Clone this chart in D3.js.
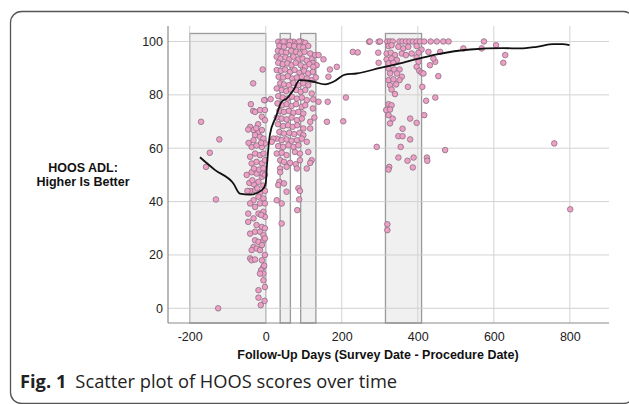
<!DOCTYPE html>
<html><head><meta charset="utf-8">
<script src="https://cdn.jsdelivr.net/npm/d3@7"></script>
<style>html,body{margin:0;padding:0;background:#fff;}svg{display:block;}</style>
</head><body><svg id="c" width="629" height="404"></svg>
<script>
const xTicks = [-200, 0, 200, 400, 600, 800];
const yTicks = [0, 20, 40, 60, 80, 100];
const xTitle = "Follow-Up Days (Survey Date - Procedure Date)";
const yTitle = ["HOOS ADL:", "Higher Is Better"];
const captionBold = "Fig. 1";
const captionText = "Scatter plot of HOOS scores over time";
// survey windows [start, end] in days
const windows = [[-200, 0], [38, 65], [92, 132], [315, 410]];
const windowTop = 103;
// loess fit line
const fitLine = [[-173,56.6],[-133,51.8],[-85,46.8],[-68,43],[-41,42.6],[-10,44.3],[0,46.8],[3,53],[11,65],[27,71.8],[42,77.4],[55,78.6],[73,81.8],[89,85.5],[121,85.1],[156,83.9],[178,84.9],[209,87.6],[239,88],[301,90.1],[362,92.1],[450,95.2],[538,97],[625,97.5],[669,97.4],[713,98],[757,99],[781,99],[799,98.6]];
// pre-operative responses
const preOp = [[-170,69.9],[-147,58.3],[-122,63.3],[-157,53],[-131,40.8],[-125,0],[-33,84.3],[-8,89.5],[-2,78],[-39,76.5],[-33,74],
[-43,47],[-31,46.5],[-19,47.4],[-6,46],[-10,49.3],[-24,50.5],[-37,51],[-41,44],[-28,44.3],[-15,43.3],[-2,44],[-19,41.8],[-6,41.2],[-32,40.5],[-41,39.3],[-28,38],[-15,39.3],[-2,39.3],[-46,35.5],[-46,32.4],[-32,33.7],[-19,35.5],[-6,36.2],[-2,34.3],[-24,31.2],[-10,30.5],[-41,28],[-28,28.7],[-15,28.7],[-6,27.4],[-28,25.5],[-19,24.9],[-6,25.5],[-2,26.2],[-32,23],[-24,22.4],[-10,23.7],[-37,21.8],[-15,21.8],[-41,18.7],[-37,18],[-28,18.3],[-10,18],[-6,15.5],[-12,14.3],[-6,13],[-15,13],[-6,10.5],[-19,6.8],[-19,4],[-13,1.2],[-3,2.8],
[-41,68],[-32,66.8],[-19,66],[-10,66.8],[-28,64.9],[-15,64.3],[-32,63],[-6,63.6],[-37,60.5],[-24,61],[-10,60.5],[-2,61.8],[-41,56.8],[-28,58],[-15,57.4],[-6,58],[-37,54.3],[-24,54.9],[-10,54.3],[-2,55.5],[-31,52.4],[-17,52],[-6,52.4],[-10,71.8],[-2,70.5],[-28,73.6],[-15,74.3],[-2,74.3],[-4,78],[-46,67],[-50,50],[-48,44],[-2,8],[-4,16],[-2,20],[-2,30],[-12,35],[-22,45],[-35,48],[-20,69],[-12,62],[-25,67.5],[-45,62],[-8,50.5],[-2,50]];
// post-operative responses
const postOp = [[13,78.4],
[33,99.9],[42,99.5],[55,99.9],[73,99.9],[82,99.3],[95,99.9],[104,99.5],[64,100],[47,100],[88,100],
[36,98.3],[48,98],[62,98.6],[75,98.3],[89,98],[99,97.8],[112,98.3],
[32,96.5],[42,96.1],[54,95.8],[67,96.5],[80,96.1],[90,95.5],[102,96.1],[117,95.5],[130,94.9],[139,94.9],[152,93.3],[121,93.3],
[29,94.3],[39,93.6],[52,94],[62,93.3],[73,94.3],[86,93.3],[97,93.6],[108,92.8],[124,92],[134,91.1],
[33,92],[45,91.5],[57,91.8],[68,91.1],[79,92],[92,91.1],[104,90.5],[115,91.5],[125,90.5],
[29,89.3],[40,89],[51,89.5],[64,88.6],[76,89.3],[89,88.3],[101,89],[112,88],[124,88.6],[169,89.5],[165,86.8],[187,90.5],
[34,86.8],[46,86.5],[58,87],[70,86.1],[82,86.5],[95,86.8],[108,86.1],[121,85.5],[132,86.5],
[38,84.3],[48,83.9],[61,83.6],[73,84.5],[86,83.6],[99,84.3],[112,83.6],
[29,82.4],[42,81.8],[54,81.4],[66,82],[80,81.8],[92,81.1],[104,81.8],[121,80.5],[139,77.4],[163,77.4],[211,79],
[33,79.5],[45,79],[57,78.6],[69,79.3],[82,78.6],[95,79],[108,78],[125,78.3],
[31,76.8],[43,76.1],[55,76.5],[68,75.8],[80,76.5],[95,75.5],[104,76.1],[124,74.9],
[36,74],[48,73.6],[61,74],[73,73.3],[86,73.6],[99,73],[128,71.5],[117,69.9],[161,69.9],[204,70.1],
[29,71.5],[42,71.1],[55,70.8],[68,71.5],[82,70.5],[95,71.1],
[32,69],[46,68.3],[59,68.6],[71,68],[83,68.6],[99,67.4],[117,67.4],
[36,66.1],[48,65.5],[62,65.8],[75,65.3],[89,65.8],[99,64.9],
[29,63.6],[42,63],[55,63.3],[68,62.8],[82,63],[95,63.6],[20,63.6],[16,62.4],
[33,60.8],[46,60.5],[60,61.1],[73,60.5],[86,61.1],[108,62.4],
[29,58],[42,58.3],[55,57.4],[77,58.6],[90,58],[112,58.6],[121,55.5],
[38,55.5],[48,54.9],[64,54.5],[79,54],[90,55.5],[117,54.5],
[38,52.4],[55,53],[82,52.4],[108,52.4],
[38,51],[36,47.4],[33,46.2],[48,46.8],[55,43.7],[29,40.5],[42,39.3],[42,31.8],[86,45],[90,44],[88,40.8],[83,36.8],
[229,96.1],[242,95.9],[272,99.9],[297,99.9],[297,92],
[274,100],[301,100],[320,100],[327,100],[334,100],[352,100],[360,100],[369,100],[378,100],[387,100],[397,100],[406,100],[417,100],[434,100],[450,100],[467,100],[481,100],[574,100],
[323,98.3],[331,98.6],[349,98],[362,97.4],[375,98],[397,98.3],[410,97],[520,97.4],[568,97.4],[606,98.6],
[318,95.5],[329,95.8],[340,94.9],[358,95.5],[369,94.9],[384,95.5],[402,95.8],[428,96.1],[459,96.1],[296,95.8],[630,94.9],
[318,93.3],[331,93.6],[345,93],[323,91.8],[336,92],[397,94],[402,92.4],[432,91.1],[446,92.4],[441,93.6],[625,92],
[323,89.9],[338,89.5],[352,89.5],[327,88],[345,88],[358,86.8],[397,90.5],[404,89],[410,88.3],[415,88],[454,87],
[323,85.5],[336,85.8],[352,85.5],[327,83.6],[343,83.9],[331,82],[374,83],[412,83],
[340,80.3],[323,76.5],[331,76.1],[317,74.3],[327,74.5],[446,79],[422,77.8],
[323,72.4],[334,71.1],[327,69.3],[380,71.1],[397,69.5],[417,72.4],
[360,67.3],[349,64.5],[360,64.5],[380,63.3],[292,60.5],[355,60.5],
[472,59.3],[349,56.5],[389,56.5],[373,55.3],[424,56.5],[425,55.3],[387,52.8],[325,53],[323,52],[759,61.8],
[320,31.5],[320,29.3],[801,37.1]];

const svg = d3.select("#c");
svg.append("rect").attr("x",10.5).attr("y",11.5).attr("width",624).attr("height",392)
  .attr("rx",11).attr("fill","#fff").attr("stroke","#555").attr("stroke-width",1.3);

const m = {l:168, r:609, t:26, b:323};
const x = d3.scaleLinear().domain([-257, 903]).range([m.l, m.r]);
const y = d3.scaleLinear().domain([-5.5, 105.8]).range([m.b, m.t]);

// windows
svg.append("g").selectAll("rect").data(windows).join("rect")
  .attr("x", d => x(d[0])).attr("y", y(windowTop))
  .attr("width", d => x(d[1]) - x(d[0])).attr("height", d => y(-5.5) - y(windowTop))
  .attr("fill", "#f0f0f0").attr("stroke", "#9a9a9a").attr("stroke-width", 1.3);

// gridlines
const grid = svg.append("g").attr("stroke", "#cfcfcf").attr("stroke-width", 1).attr("opacity", 0.9);
grid.selectAll("line.h").data(yTicks).join("line").attr("class","h")
  .attr("x1", m.l).attr("x2", m.r).attr("y1", d => y(d)).attr("y2", d => y(d));
grid.selectAll("line.v").data(xTicks).join("line").attr("class","v")
  .attr("y1", m.t).attr("y2", m.b).attr("x1", d => x(d)).attr("x2", d => x(d));

// axes
const xAxis = d3.axisBottom(x).tickValues(xTicks).tickFormat(d => String(d)).tickSize(0).tickPadding(9);
const yAxis = d3.axisLeft(y).tickValues(yTicks).tickFormat(d => String(d)).tickSize(0).tickPadding(5);
const gx = svg.append("g").attr("transform", `translate(0,${m.b})`).call(xAxis);
const gy = svg.append("g").attr("transform", `translate(${m.l},0)`).call(yAxis);
[gx, gy].forEach(g => {
  g.select(".domain").attr("stroke", "#8a8a8a").attr("stroke-width", 1.2);
  g.selectAll("text").attr("font-family", "Liberation Sans, Arial, sans-serif").attr("font-size", 12.5).attr("fill", "#222");
});
gx.select(".domain").attr("d", `M${m.l},0H${m.r}`);
gy.select(".domain").attr("d", `M0,${m.t}V${m.b}`);

// points
const pts = preOp.concat(postOp);
svg.append("g").selectAll("circle").data(pts).join("circle")
  .attr("cx", d => x(d[0])).attr("cy", d => y(d[1])).attr("r", 2.8)
  .attr("fill", "#ee9fc6").attr("stroke", "#8a6f80").attr("stroke-width", 0.8);

// fit line
svg.append("path").datum(fitLine)
  .attr("d", d3.line().x(d => x(d[0])).y(d => y(d[1])).curve(d3.curveMonotoneX))
  .attr("fill", "none").attr("stroke", "#111").attr("stroke-width", 1.8);

// titles
svg.append("text").attr("x", 378).attr("y", 359).attr("text-anchor", "middle")
  .attr("font-family", "Liberation Sans, Arial, sans-serif").attr("font-weight", "bold").attr("font-size", 12.5)
  .attr("fill", "#111").text(xTitle);
svg.append("g").selectAll("text").data(yTitle).join("text")
  .attr("x", 83).attr("y", (d, i) => 172 + i * 14).attr("text-anchor", "middle")
  .attr("font-family", "Liberation Sans, Arial, sans-serif").attr("font-weight", "bold").attr("font-size", 12.5)
  .attr("fill", "#111").text(d => d);

const cap = svg.append("text").attr("x", 20).attr("y", 388)
  .attr("font-family", "Open Sans, Noto Sans, sans-serif").attr("font-size", 18.3).attr("fill", "#222");
cap.append("tspan").attr("font-weight", "bold").text(captionBold);
cap.append("tspan").attr("dx", 9).text(captionText);
</script></body></html>
